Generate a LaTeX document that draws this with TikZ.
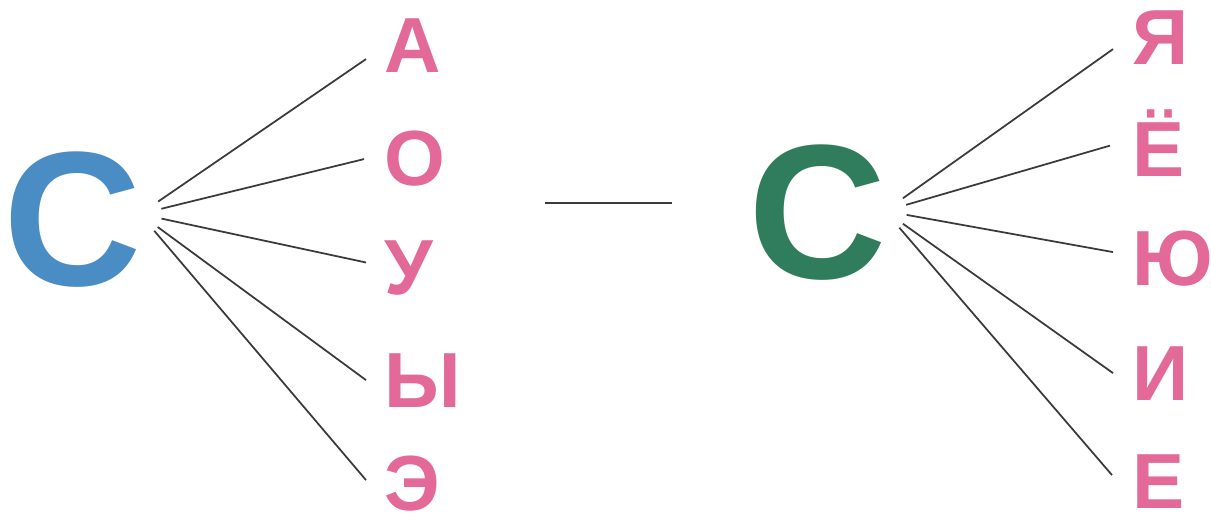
\documentclass[tikz,border=0pt]{standalone}
\usepackage{fontspec}
\setmainfont{Liberation Sans}
\usetikzlibrary{positioning}
\definecolor{syllBlue}{HTML}{4A8CC4}
\definecolor{syllGreen}{HTML}{2F7D5C}
\definecolor{vowelPink}{HTML}{E36A98}
\definecolor{lineGray}{HTML}{3A3A3A}

\begin{document}
\begin{tikzpicture}[x=0.02cm, y=-0.02cm,
    cons/.style={anchor=base west, inner sep=0pt,
                 font=\fontsize{109}{109}\selectfont\bfseries\color{#1}},
    vow/.style={anchor=base west, inner sep=0pt,
                font=\fontsize{44.5}{44.5}\selectfont\bfseries\color{vowelPink}},
    link/.style={draw=lineGray, line width=1pt, shorten <=0.44cm},
  ]
    \useasboundingbox (0,0) rectangle (1211,520);

    % hard consonant and its vowels
    \node[cons=syllBlue] (cL) at (3,286) {С};
    \coordinate (hubL) at (140,214);
    \node[vow] (vA) at (384,73)  {А};
    \node[vow] (vO) at (384,186) {О};
    \node[vow] (vU) at (384,295) {У};
    \node[vow] (vY) at (384,407) {Ы};
    \node[vow] (vE) at (384,510) {Э};

    \draw[link] (hubL) -- ([xshift=-0.36cm, yshift=-0.26cm]vA.west);
    \draw[link] (hubL) -- ([xshift=-0.4cm]vO.west);
    \draw[link] (hubL) -- ([xshift=-0.36cm, yshift=0.12cm]vU.west);
    \draw[link] (hubL) -- ([xshift=-0.36cm]vY.west);
    \draw[link] (hubL) -- ([xshift=-0.36cm, yshift=0.06cm]vE.west);

    % dash between the two groups
    \draw[draw=lineGray, line width=1.1pt] (545,203) -- (672,203);

    % soft consonant and its vowels
    \node[cons=syllGreen] (cR) at (748,279) {С};
    \coordinate (hubR) at (885,211);
    \node[vow] (vYa) at (1132,65)  {Я};
    \node[vow] (vYo) at (1132,177) {Ё};
    \node[vow] (vYu) at (1132,286) {Ю};
    \node[vow] (vI)  at (1132,400) {И};
    \node[vow] (vYe) at (1132,508) {Е};

    \draw[link] (hubR) -- ([xshift=-0.38cm, yshift=-0.22cm]vYa.west);
    \draw[link] (hubR) -- ([xshift=-0.44cm, yshift=-0.04cm]vYo.west);
    \draw[link] (hubR) -- ([xshift=-0.38cm, yshift=0.14cm]vYu.west);
    \draw[link] (hubR) -- ([xshift=-0.38cm]vI.west);
    \draw[link] (hubR) -- ([xshift=-0.4cm, yshift=0.12cm]vYe.west);
\end{tikzpicture}
\end{document}
